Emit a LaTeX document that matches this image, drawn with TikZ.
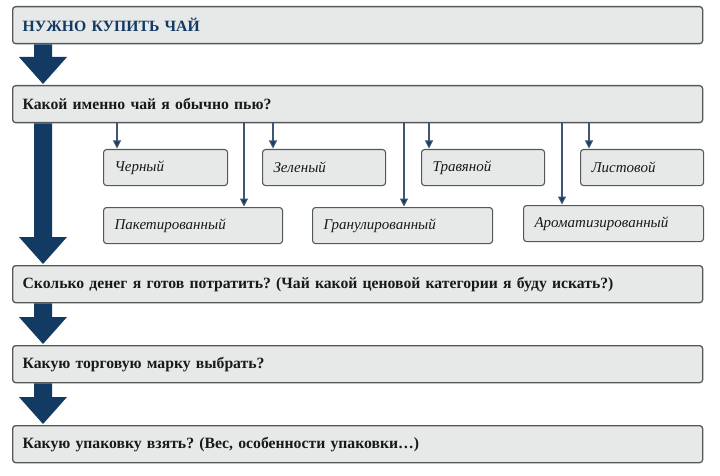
\documentclass[tikz,border=0pt]{standalone}
\usepackage{fontspec}
\setmainfont{Liberation Serif}
\usetikzlibrary{arrows.meta,calc}
\definecolor{navy}{HTML}{123A63}
\definecolor{boxfill}{HTML}{E7E9E9}
\definecolor{boxline}{HTML}{55585B}
\definecolor{thin}{HTML}{3E5670}
\frenchspacing
\tikzset{
  bigbox/.style={draw=boxline, line width=1.3pt, fill=boxfill, rounded corners=3pt,
    anchor=north west, minimum width=690pt, minimum height=37pt, text width=670pt,
    inner xsep=10pt, align=left, font=\bfseries\fontsize{15.7}{17}\selectfont, text=black!90},
  smallbox/.style={draw=boxline, line width=1.1pt, fill=boxfill, rounded corners=3pt,
    anchor=north west, minimum height=36pt, inner xsep=11pt, align=left,
    font=\itshape\fontsize{15}{17}\selectfont, text=black!90},
  thinarr/.style={draw=thin, line width=1.1pt, -{Triangle[length=8pt,width=8pt,fill=navy]}, shorten >=0.5pt},
}
\newcommand\bigarr[2]{%
  \path let \p1=(#1.south west), \p2=(#2.north west) in
    [fill=navy] (\x1+22pt,\y1) -- (\x1+40pt,\y1) -- (\x1+40pt,\y2+28pt) -- (\x1+55pt,\y2+28pt)
    -- (\x1+31pt,\y2+1pt) -- (\x1+7pt,\y2+28pt) -- (\x1+22pt,\y2+28pt) -- cycle;}
\begin{document}
\begin{tikzpicture}[x=1pt,y=-1pt]
\useasboundingbox[fill=white] (0,0) rectangle (720,476);
\node[bigbox, text=navy] (b1) at (12,6) {НУЖНО КУПИТЬ ЧАЙ};
\node[bigbox] (b2) at (12,85) {Какой именно чай я обычно пью?};
\node[bigbox] (b3) at (12,265) {Сколько денег я готов потратить? (Чай какой ценовой категории я буду искать?)};
\node[bigbox] (b4) at (12,345) {Какую торговую марку выбрать?};
\node[bigbox] (b5) at (12,425) {Какую упаковку взять? (Вес, особенности упаковки…)};
\bigarr{b1}{b2}
\bigarr{b2}{b3}
\bigarr{b3}{b4}
\bigarr{b4}{b5}
\node[smallbox, minimum width=124pt, text width=102pt] (c1) at (103,149) {Черный};
\node[smallbox, minimum width=123pt, text width=101pt] (c2) at (262,149) {Зеленый};
\node[smallbox, minimum width=123pt, text width=101pt] (c3) at (421,149) {Травяной};
\node[smallbox, minimum width=123pt, text width=101pt] (c4) at (580,149) {Листовой};
\node[smallbox, minimum width=179pt, text width=157pt] (c5) at (103,207) {Пакетированный};
\node[smallbox, minimum width=180pt, text width=158pt] (c6) at (312,207) {Гранулированный};
\node[smallbox, minimum width=180pt, text width=158pt] (c7) at (523,205) {Ароматизированный};
\coordinate (a1) at (117,122);
\coordinate (a5) at (244,122);
\coordinate (a2) at (273,122);
\coordinate (a6) at (404,122);
\coordinate (a3) at (429,122);
\coordinate (a7) at (562,122);
\coordinate (a4) at (589,122);
\draw[thinarr] (a1) -- (a1 |- c1.north);
\draw[thinarr] (a2) -- (a2 |- c2.north);
\draw[thinarr] (a3) -- (a3 |- c3.north);
\draw[thinarr] (a4) -- (a4 |- c4.north);
\draw[thinarr] (a5) -- (a5 |- c5.north);
\draw[thinarr] (a6) -- (a6 |- c6.north);
\draw[thinarr] (a7) -- (a7 |- c7.north);
\end{tikzpicture}
\end{document}
